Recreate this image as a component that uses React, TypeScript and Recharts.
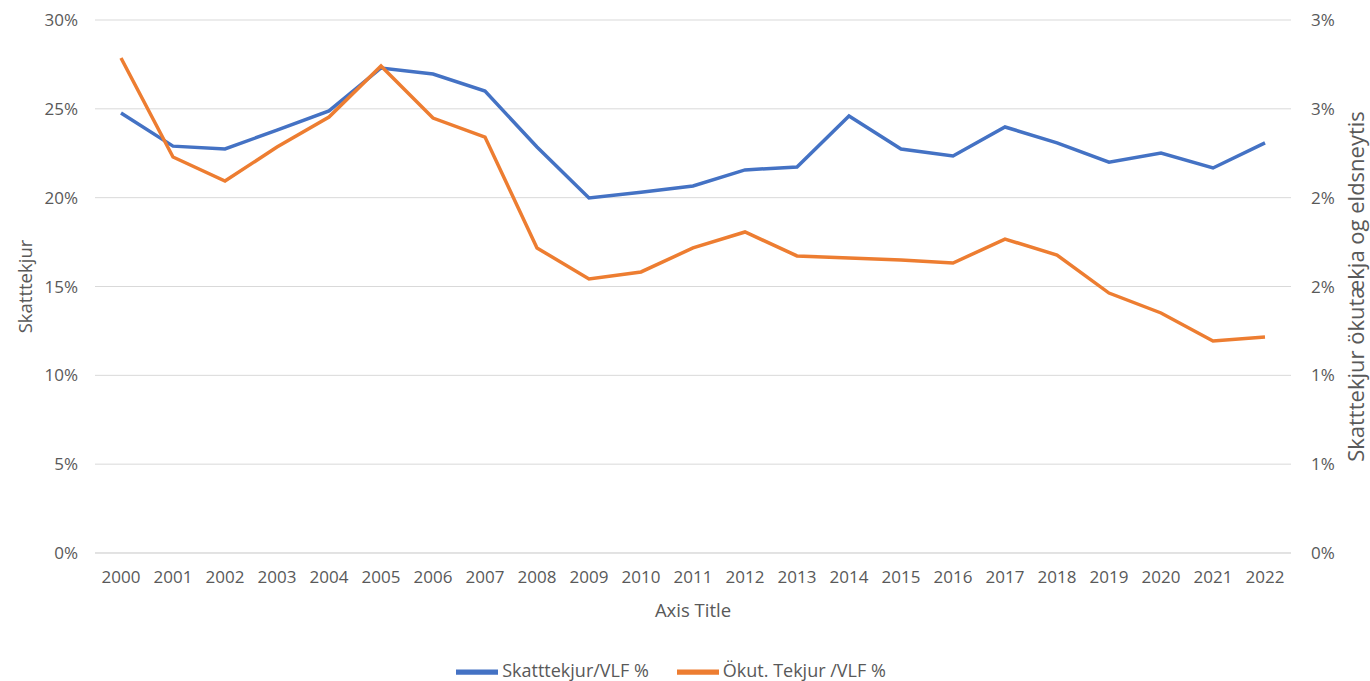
import React from 'react';
import { LineChart, Line, XAxis, YAxis, CartesianGrid, Legend } from 'recharts';

const years = ['2000', '2001', '2002', '2003', '2004', '2005', '2006', '2007', '2008', '2009', '2010', '2011',
    '2012', '2013', '2014', '2015', '2016', '2017', '2018', '2019', '2020', '2021', '2022'];

// Skatttekjur / VLF (%), vinstri ás
const skatttekjur = [24.77, 22.9, 22.74, 23.8, 24.88, 27.3, 26.96, 26.0, 22.85, 19.98, 20.3, 20.66,
    21.56, 21.73, 24.6, 22.74, 22.35, 23.98, 23.08, 22.0, 22.51, 21.67, 23.08];

// Ökut. tekjur / VLF (%), hægri ás
const okutTekjur = [2.786, 2.229, 2.094, 2.285, 2.454, 2.741, 2.448, 2.341, 1.717, 1.542, 1.582, 1.717,
    1.807, 1.672, 1.661, 1.649, 1.632, 1.767, 1.677, 1.463, 1.351, 1.193, 1.216];

const leftTicks = [0, 5, 10, 15, 20, 25, 30];
const rightTicks = [0, 0.5, 1, 1.5, 2, 2.5, 3];

const data = years.map((year, i) => ({
    year,
    skatt: skatttekjur[i],
    okut: okutTekjur[i],
}));

const FONT = '"Open Sans", sans-serif';
const TEXT = '#595959';
const tickStyle = { fill: TEXT, fontSize: 17, fontFamily: FONT };

const App: React.FC = () => {
    return (
        <div style={{ position: 'absolute', left: 0, top: 0, background: '#fff' }}>
            <LineChart width={1370} height={681} data={data} margin={{ top: 20, right: 0, bottom: 0, left: 0 }}>
                <CartesianGrid vertical={false} stroke="#d9d9d9" yAxisId="left" />
                <XAxis
                    dataKey="year"
                    height={98}
                    padding={{ left: 26, right: 26 }}
                    tickLine={false}
                    tickSize={0}
                    tickMargin={18}
                    axisLine={{ stroke: '#d9d9d9' }}
                    tick={tickStyle}
                    interval={0}
                    label={({ viewBox }: any) => (
                        <text x={viewBox.x + viewBox.width / 2} y={viewBox.y + 64} textAnchor="middle"
                              fill={TEXT} fontSize={18.5} fontFamily={FONT}>Axis Title</text>
                    )}
                />
                <YAxis
                    yAxisId="left"
                    width={95}
                    domain={[0, 30]}
                    ticks={leftTicks}
                    tickFormatter={(v: number) => `${v}%`}
                    axisLine={false}
                    tickLine={false}
                    tickSize={0}
                    tickMargin={17}
                    tick={tickStyle}
                    label={({ viewBox }: any) => {
                        const x = viewBox.x + 24;
                        const y = viewBox.y + viewBox.height / 2;
                        return (
                            <text x={x} y={y} transform={`rotate(-90, ${x}, ${y})`} textAnchor="middle"
                                  dominantBaseline="central" fill={TEXT} fontSize={18.5} fontFamily={FONT}>Skatttekjur</text>
                        );
                    }}
                />
                <YAxis
                    yAxisId="right"
                    orientation="right"
                    width={79}
                    domain={[0, 3]}
                    ticks={rightTicks}
                    tickFormatter={(v: number) => `${Math.round(v)}%`}
                    axisLine={false}
                    tickLine={false}
                    tickSize={0}
                    tickMargin={20}
                    tick={tickStyle}
                    label={({ viewBox }: any) => {
                        const x = viewBox.x + 64;
                        const y = viewBox.y + viewBox.height / 2;
                        return (
                            <text x={x} y={y} transform={`rotate(-90, ${x}, ${y})`} textAnchor="middle"
                                  dominantBaseline="central" fill={TEXT} fontSize={22} fontFamily={FONT}>
                                Skatttekjur ökutækja og eldsneytis
                            </text>
                        );
                    }}
                />
                <Legend
                    verticalAlign="bottom"
                    height={30}
                    iconType="plainline"
                    iconSize={42}
                    wrapperStyle={{ fontFamily: FONT, fontSize: 18, color: TEXT }}
                    formatter={(value: string) => <span style={{ color: TEXT, paddingRight: 18 }}>{value}</span>}
                />
                <Line yAxisId="left" type="linear" dataKey="skatt" name="Skatttekjur/VLF %" stroke="#4472C4"
                      strokeWidth={3.5} dot={false} isAnimationActive={false} />
                <Line yAxisId="right" type="linear" dataKey="okut" name="Ökut. Tekjur /VLF %" stroke="#ED7D31"
                      strokeWidth={3.5} dot={false} isAnimationActive={false} />
            </LineChart>
        </div>
    );
};

export default App;
